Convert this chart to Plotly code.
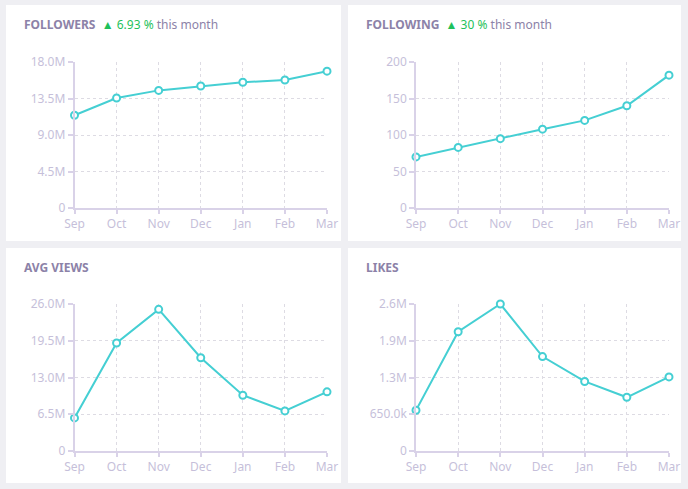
import plotly.graph_objects as go

months = ["Sep", "Oct", "Nov", "Dec", "Jan", "Feb", "Mar"]

followers = [11.43e6, 13.56e6, 14.5e6, 15.04e6, 15.5e6, 15.78e6, 16.87e6]
following = [70, 83, 95, 108, 120, 140, 182]
avg_views = [5.85e6, 19.1e6, 25.05e6, 16.5e6, 9.87e6, 7.09e6, 10.46e6]
likes = [0.72e6, 2.11e6, 2.6e6, 1.67e6, 1.23e6, 0.95e6, 1.31e6]

followers_tickvals = [0, 4.5e6, 9.0e6, 13.5e6, 18.0e6]
followers_ticktext = ["0", "4.5M", "9.0M", "13.5M", "18.0M"]
following_tickvals = [0, 50, 100, 150, 200]
following_ticktext = ["0", "50", "100", "150", "200"]
views_tickvals = [0, 6.5e6, 13.0e6, 19.5e6, 26.0e6]
views_ticktext = ["0", "6.5M", "13.0M", "19.5M", "26.0M"]
likes_tickvals = [0, 0.65e6, 1.3e6, 1.95e6, 2.6e6]
likes_ticktext = ["0", "650.0k", "1.3M", "1.9M", "2.6M"]

titles = ["FOLLOWERS", "FOLLOWING", "AVG VIEWS", "LIKES"]
changes = ["6.93 %", "30 %", None, None]

W, H = 688, 489
FONT = "Noto Sans"
LINE = "#45cfd3"
TITLE_C = "#8c82a8"
TICK_C = "#c6bfda"
AXIS_C = "#d9d2e8"
GRID_C = "#dddbe3"
GREEN = "#1fc15b"
PAGE_BG = "#efeff3"


def fx(px):
    return px / W


def fy(py):
    return 1 - py / H


# card rectangles and plot areas in pixels
cards = [(6, 5, 341, 241), (348, 5, 681, 241), (6, 248, 341, 483), (348, 248, 681, 483)]
plots = [(74.5, 62, 327, 208), (416, 62, 669, 208), (74.5, 304, 327, 451), (416, 304, 669, 451)]

series = [followers, following, avg_views, likes]
tickvals = [followers_tickvals, following_tickvals, views_tickvals, likes_tickvals]
ticktexts = [followers_ticktext, following_ticktext, views_ticktext, likes_ticktext]

fig = go.Figure()
layout = dict(
    width=W, height=H, margin=dict(l=0, r=0, t=0, b=0, pad=0, autoexpand=False),
    paper_bgcolor=PAGE_BG, plot_bgcolor="white", showlegend=False,
    font=dict(family=FONT, size=11, color=TICK_C),
    shapes=[], annotations=[],
)

for i in range(4):
    n = "" if i == 0 else str(i + 1)
    xa, ya = "x" + n, "y" + n
    fig.add_trace(go.Scatter(
        x=months, y=series[i], xaxis=xa, yaxis=ya, mode="lines+markers",
        line=dict(color=LINE, width=2),
        marker=dict(size=7, color="white", line=dict(color=LINE, width=2)),
        cliponaxis=False, hoverinfo="x+y",
    ))
    l, t, r, b = plots[i]
    layout["xaxis" + n] = dict(
        domain=[fx(l), fx(r)], anchor=ya, range=[0, 6], type="category",
        automargin=False,
        showline=True, linecolor=AXIS_C, linewidth=1.5,
        ticks="outside", ticklen=4, tickcolor=AXIS_C, tickwidth=1.5,
        showgrid=True, gridcolor=GRID_C, griddash="dot", gridwidth=1,
        tickfont=dict(family=FONT, size=12, color=TICK_C), zeroline=False,
        fixedrange=True,
    )
    layout["yaxis" + n] = dict(
        domain=[fy(b), fy(t)], anchor=xa, range=[0, tickvals[i][-1]],
        automargin=False,
        tickvals=tickvals[i], ticktext=ticktexts[i],
        showline=True, linecolor=AXIS_C, linewidth=1.5,
        ticks="outside", ticklen=5, tickcolor=AXIS_C, tickwidth=1.5,
        showgrid=True, gridcolor=GRID_C, griddash="dot", gridwidth=1,
        tickfont=dict(family=FONT, size=12, color=TICK_C), zeroline=False,
        fixedrange=True,
    )
    cl, ct, cr, cb = cards[i]
    layout["shapes"].append(dict(
        type="rect", xref="paper", yref="paper", x0=fx(cl), x1=fx(cr),
        y0=fy(cb), y1=fy(ct), fillcolor="white", line=dict(width=0), layer="below",
    ))
    text = "<b>" + titles[i] + "</b>"
    if changes[i]:
        text += ("  <span style='color:%s;font-size:12px'>▲</span>"
                 "<span style='color:%s'> %s</span> this month") % (GREEN, GREEN, changes[i])
    layout["annotations"].append(dict(
        text=text, xref="paper", yref="paper", x=fx(cl + 15.5), y=fy(ct + 19),
        xanchor="left", yanchor="middle", showarrow=False,
        font=dict(family=FONT, size=12, color=TITLE_C),
    ))

fig.update_layout(**layout)
fig.write_html(
    "out.html",
    config={"displayModeBar": False},
    post_script="document.body.style.margin='0';document.body.style.overflow='hidden';"
                "document.body.style.background='%s';" % PAGE_BG,
)
